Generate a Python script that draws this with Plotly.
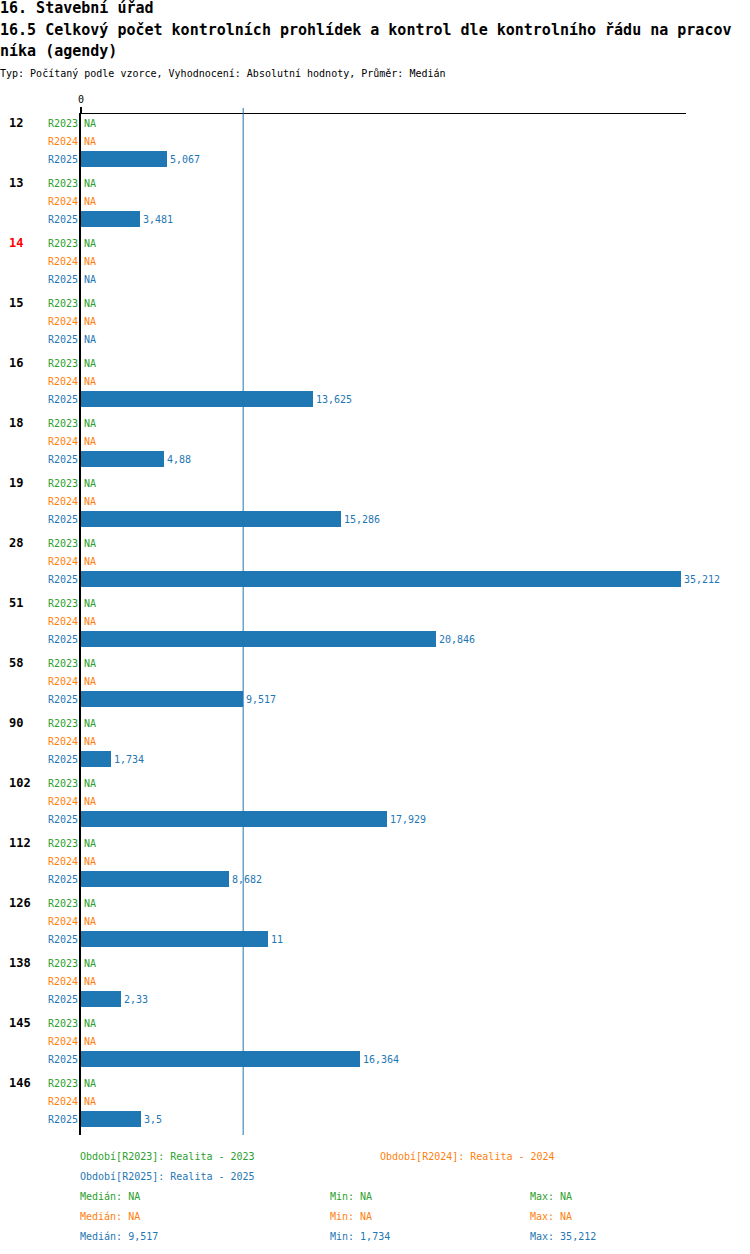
import plotly.graph_objects as go

# data
groups = ["12", "13", "14", "15", "16", "18", "19", "28", "51", "58",
          "90", "102", "112", "126", "138", "145", "146"]
highlight = "14"
series = ["R2023", "R2024", "R2025"]
r2023 = [None] * len(groups)
r2024 = [None] * len(groups)
r2025 = [5067, 3481, None, None, 13625, 4880, 15286, 35212, 20846, 9517,
         1734, 17929, 8682, 11000, 2330, 16364, 3500]
colors = {"R2023": "#2ca02c", "R2024": "#ff7f0e", "R2025": "#1f77b4"}
period_names = {"R2023": "Realita - 2023", "R2024": "Realita - 2024", "R2025": "Realita - 2025"}

title1 = "16. Stavební úřad"
title2 = "16.5 Celkový počet kontrolních prohlídek a kontrol dle kontrolního řádu na pracov"
title3 = "níka (agendy)"
subtitle = "Typ: Počítaný podle vzorce, Vyhodnocení: Absolutní hodnoty, Průměr: Medián"

FONT = "DejaVu Sans Mono"
W, H = 750, 1254
TOP, BOTTOM = 114, 1135          # plot area in px
LEFT, RIGHT = 81, 686
PH = BOTTOM - TOP
XMAX = 35212 * (RIGHT - LEFT) / 600.0


def fmt(v):
    if v is None:
        return "NA"
    return f"{v:,}".rstrip("0").rstrip(",")


def stats(vals):
    v = sorted(x for x in vals if x is not None)
    if not v:
        return "NA", "NA", "NA"
    n = len(v)
    med = v[n // 2] if n % 2 else (v[n // 2 - 1] + v[n // 2]) / 2
    return fmt(med), fmt(v[0]), fmt(v[-1])


def px_y(p):  # pixel -> paper y
    return (BOTTOM - p) / PH


def px_x(p):  # pixel -> paper x (annotation padding compensated)
    return (p - 2 - LEFT) / (RIGHT - LEFT)


data = {"R2023": r2023, "R2024": r2024, "R2025": r2025}
row_y = lambda gi, si: 9 + gi * 60 + si * 18

fig = go.Figure()
annotations = []

for si, s in enumerate(series):
    vals = data[s]
    ys = [row_y(gi, si) for gi in range(len(groups))]
    fig.add_trace(go.Bar(orientation="h", x=[v if v is not None else 0 for v in vals], y=ys,
                         width=16, marker=dict(color=colors[s], line=dict(width=0)),
                         hoverinfo="skip", showlegend=False))
    for v, y in zip(vals, ys):
        annotations.append(dict(x=v if v is not None else 0, xref="x", y=y, yref="y", text=fmt(v),
                                showarrow=False, xanchor="left", yanchor="middle", xshift=1,
                                font=dict(family=FONT, size=10, color=colors[s])))

for gi, g in enumerate(groups):
    annotations.append(dict(x=px_x(9), xref="paper", y=row_y(gi, 0), yref="y", text="<b>%s</b>" % g,
                            showarrow=False, xanchor="left", yanchor="middle",
                            font=dict(family=FONT, size=12, color="red" if g == highlight else "black")))
    for si, s in enumerate(series):
        annotations.append(dict(x=px_x(82), xref="paper", y=row_y(gi, si), yref="y", text=s,
                                showarrow=False, xanchor="right", yanchor="middle",
                                font=dict(family=FONT, size=10, color=colors[s])))

# titles
for txt, yp, size, bold in [(title1, 8, 15, True), (title2, 30, 15, True),
                            (title3, 51, 15, True), (subtitle, 73, 10, False)]:
    annotations.append(dict(x=px_x(0), xref="paper", y=px_y(yp), yref="paper",
                            text="<b>%s</b>" % txt if bold else txt, showarrow=False,
                            xanchor="left", yanchor="middle",
                            font=dict(family=FONT, size=size, color="black")))

# legend / summary text
legend_items = [("R2023", 80, 1156), ("R2024", 380, 1156), ("R2025", 80, 1176)]
for s, xp, yp in legend_items:
    annotations.append(dict(x=px_x(xp), xref="paper", y=px_y(yp), yref="paper",
                            text="Období[%s]: %s" % (s, period_names[s]), showarrow=False,
                            xanchor="left", yanchor="middle",
                            font=dict(family=FONT, size=10, color=colors[s])))
for si, s in enumerate(series):
    med, mn, mx = stats(data[s])
    yp = 1196 + si * 20
    for label, val, xp in [("Medián", med, 80), ("Min", mn, 330), ("Max", mx, 530)]:
        annotations.append(dict(x=px_x(xp), xref="paper", y=px_y(yp), yref="paper",
                                text="%s: %s" % (label, val), showarrow=False,
                                xanchor="left", yanchor="middle",
                                font=dict(family=FONT, size=10, color=colors[s])))

vals25 = sorted(v for v in r2025 if v is not None)
med25 = vals25[len(vals25) // 2]

fig.update_layout(
    width=W, height=H,
    margin=dict(l=LEFT, r=W - RIGHT, t=TOP, b=H - BOTTOM, pad=0),
    paper_bgcolor="white", plot_bgcolor="white",
    barmode="overlay", bargap=0,
    annotations=annotations,
    shapes=[dict(type="line", x0=med25, x1=med25, xref="x", y0=0, y1=1.006, yref="paper",
                 line=dict(color="#1f77b4", width=1))],
    xaxis=dict(range=[0, XMAX], side="top", tickvals=[0], ticktext=["0"],
               ticks="outside", ticklen=6, tickwidth=2, tickcolor="black",
               showgrid=False, zeroline=False, showline=True, linecolor="black", linewidth=1,
               tickfont=dict(family=FONT, size=10, color="black"), fixedrange=True),
    yaxis=dict(range=[PH, 0], showticklabels=False, ticks="", showgrid=False, zeroline=False,
               showline=True, linecolor="black", linewidth=2, fixedrange=True),
    font=dict(family=FONT),
)

fig.write_html("out.html", config={"displayModeBar": False},
               post_script="document.body.style.margin='0';")
